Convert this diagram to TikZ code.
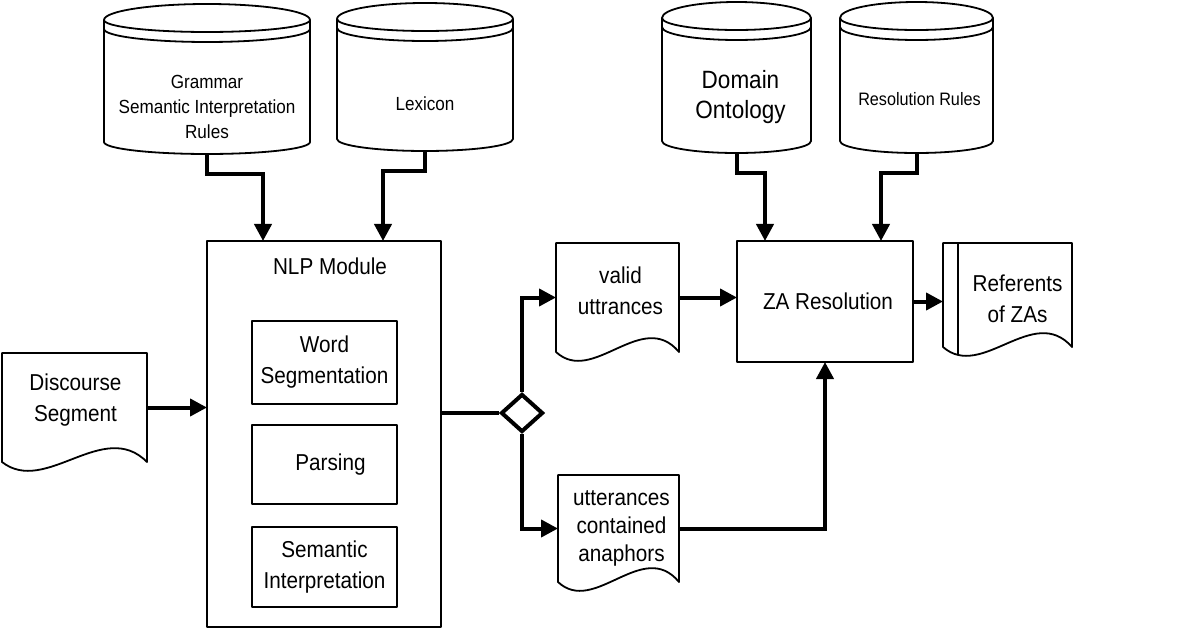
\documentclass[tikz,border=0pt]{standalone}
\usepackage{fontspec}
\setmainfont{Liberation Sans}[FakeStretch=0.9]
\usetikzlibrary{shapes.geometric,arrows.meta,calc}

\newcommand\docnode[7]{% name x0 x1 ytop ybottom-of-sides labelopts text
  \draw[outline] ({#2},{#4}) -- ({#3},{#4}) -- ({#3},{#5})
     .. controls ({#3-0.3*(#3-#2)},{#5-44}) and ({#2+0.3*(#3-#2)},{#5+34}) .. ({#2},{#5}) -- cycle;
  \node[hold, minimum width={(#3-#2)*1pt}, minimum height={(#5-#4)*1pt},
        label={[txt,#6]center:{#7}}] (#1) at ({(#2+#3)/2},{(#4+#5)/2}) {};
}
\newcommand\cylnode[7]{% name x0 x1 ytop ybottom-of-sides labelopts text
  \pgfmathsetmacro\rx{(#3-#2)/2}
  \draw[outline] ({#2},{#4}) -- ({#2},{#5})
     arc[start angle=180,end angle=360,x radius=\rx pt,y radius=12pt] -- ({#3},{#4})
     arc[start angle=0,end angle=180,x radius=\rx pt,y radius=16pt] -- cycle;
  \draw[outline] ({#2},{#4}) arc[start angle=180,end angle=360,x radius=\rx pt,y radius=12pt];
  \draw[outline] ({#2},{#4+9}) arc[start angle=180,end angle=360,x radius=\rx pt,y radius=13pt];
  \node[hold, minimum width={(#3-#2)*1pt}, minimum height={(#5-#4+12)*1pt},
        label={[txt,#6]center:{#7}}] (#1) at ({(#2+#3)/2},{(#4+#5+12)/2}) {};
}

\begin{document}
\begin{tikzpicture}[x=1pt,y=-1pt,
  outline/.style={line width=1.8pt, line join=round},
  hold/.style={draw=none, inner sep=0pt, outer sep=0pt},
  box/.style={draw, outline, inner sep=0pt, outer sep=0pt, font=\fontsize{23}{31}\selectfont, align=center},
  txt/.style={font=\fontsize{23}{31}\selectfont, align=center, inner sep=0pt},
  sm/.style={font=\fontsize{19}{25}\selectfont},
  big/.style={font=\fontsize{25}{30}\selectfont},
  tiny/.style={font=\fontsize{18}{22}\selectfont},
  conn/.style={line width=4pt, -{Triangle[length=17pt,width=17pt]}},
  plainline/.style={line width=4pt},
  decision/.style={diamond, draw, line width=4pt, minimum width=42pt, minimum height=38pt, inner sep=0pt},
]
\useasboundingbox (0,0) rectangle (1198,628);

% databases
\cylnode{gram}{104}{310}{20}{142}{sm, yshift=-20pt}{Grammar\\Semantic Interpretation\\Rules}
\cylnode{lex}{337}{513}{19}{139}{sm, yshift=-19pt}{Lexicon}
\cylnode{dom}{662}{811}{18}{141}{big, yshift=-12pt, xshift=4pt}{Domain\\Ontology}
\cylnode{res}{840}{993}{18}{141}{tiny, yshift=-14pt, xshift=3pt}{Resolution Rules}

% NLP module
\node[box, minimum width=234pt, minimum height=386pt,
      label={[txt, anchor=center, yshift=-25pt, xshift=6pt]north:NLP Module}] (nlp) at (324,434) {};
\node[box, minimum width=145pt, minimum height=83pt] (word) at (324.5,362.5) {Word\\Segmentation};
\node[box, minimum width=145pt, minimum height=79pt] (pars) at (324.5,464.5) {\hspace*{12pt}Parsing};
\node[box, minimum width=145pt, minimum height=80pt] (sem) at (324.5,567) {Semantic\\Interpretation};

% ZA resolution
\node[box, minimum width=176pt, minimum height=121pt] (za) at (825,301.5) {\hspace*{6pt}ZA Resolution};

% documents
\docnode{disc}{2}{147}{353}{462}{yshift=7pt, xshift=1pt}{Discourse\\Segment}
\docnode{valid}{556}{679}{243}{352}{yshift=7pt, xshift=3pt}{valid\\uttrances}
\docnode{utt}{558}{679}{475}{582}{xshift=3pt, font=\fontsize{23}{28}\selectfont}{utterances\\contained\\anaphors}
\docnode{ref}{943}{1072}{243}{347}{yshift=-4pt, xshift=10pt}{Referents\\of ZAs}
\draw[outline] ($(ref.north west)+(15,0)$) -- ($(ref.south west)+(15,8)$);

% decision
\node[decision] (dia) at (522,413) {};

% connectors
\draw[conn] (gram.south) -- ++(0,20) -| ($(nlp.north west)+(56,0)$);
\draw[conn] (lex.south) -- ++(0,20) -| ($(nlp.north west)+(176,0)$);
\draw[conn] (dom.south) -- ++(0,20) -| ($(za.north west)+(28,0)$);
\draw[conn] (res.south) -- ++(0,20) -| ($(za.north east)+(-32,0)$);
\draw[conn] (disc.east) -- (disc.east -| nlp.west);
\draw[plainline] (dia.west -| nlp.east) -- (dia.west);
\draw[conn] (dia.north) |- (valid.west);
\draw[conn] (dia.south) |- (utt.west);
\draw[conn] (valid.east) -- (valid.east -| za.west);
\draw[conn] (utt.east) -| (za.south);
\draw[conn] (za.east) -- (za.east -| ref.west);
\end{tikzpicture}
\end{document}
